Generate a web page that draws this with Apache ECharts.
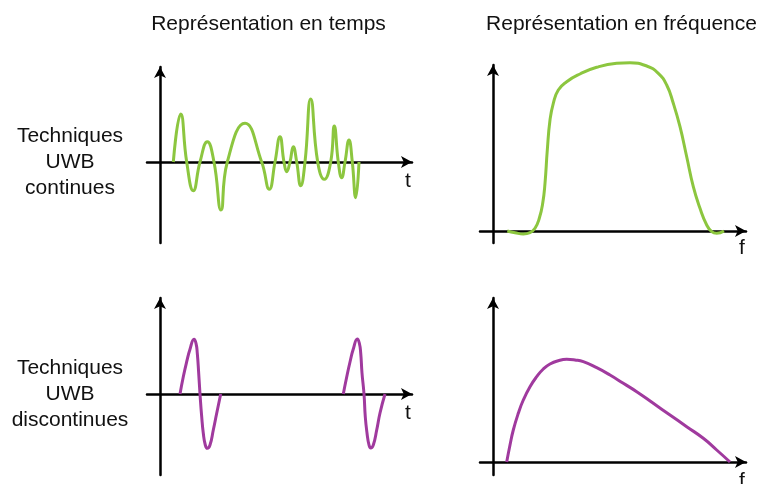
<!DOCTYPE html>
<html><head><meta charset="utf-8">
<script src="https://cdn.jsdelivr.net/npm/echarts@6/dist/echarts.min.js"></script>
<style>html,body{margin:0;padding:0;background:#fff}#c{width:762px;height:484px}</style>
</head><body><div id="c"></div>
<script>
const titles = ['Représentation en temps', 'Représentation en fréquence'];
const rowLabels = ['Techniques\nUWB\ncontinues', 'Techniques\nUWB\ndiscontinues'];
const axisNames = ['t', 'f', 't', 'f'];

// Continuous UWB, time domain [t, amplitude]
const contTime = [[13.3,0],[20.7,48],[26.7,0],[33.3,-28.7],[40,0],[47.3,20.3],[54,0],[61,-48],[67.3,0],[85,38.7],[101.7,0],[109.3,-27.3],[115,0],[120,25.3],[124,0],[126.7,-9.7],[130,0],[133.3,15.3],[136.7,0],[140.7,-23.7],[145,0],[150.7,63],[157.7,0],[164.3,-17.3],[170.7,0],[174.3,36],[178.3,0],[181.7,-15.7],[185,0],[189,22],[192.3,0],[195.7,-35.7],[199,0]];
// Continuous UWB, frequency domain [f, magnitude]
const contFreq = [[14.3,0],[22,-1.7],[30.3,-3],[37,-1.7],[42,2.7],[46.3,12.7],[49.7,27.7],[52,47.7],[54.3,81],[57,111],[60.3,127.7],[65.3,141],[73.7,149.3],[87,157],[103.7,163.7],[123.7,167.7],[137,168.3],[153.7,165],[165.3,157.7],[173.7,146],[180.3,127.7],[187,104.3],[193.7,74.3],[200.3,44.3],[207,22.7],[213.7,6],[218.7,-0.7],[223.7,-2.3],[231,0]];
// Discontinuous UWB, time domain: two pulses
const pulse1 = [[20,0],[23.3,17.3],[26.7,32.3],[30,44.7],[34,54.7],[36,50.7],[37.3,40.7],[38.7,20.7],[40,0],[41.7,-22.7],[43.3,-39.3],[45.3,-51],[47.3,-54.3],[50,-51],[53.3,-36],[56.7,-19.3],[60.7,0]];
const pulse2 = [[183.3,0],[186.7,17],[190,32],[193.3,45],[197.3,55],[199.3,51],[200.7,41],[202,21],[204,0],[205.3,-23],[207,-39],[209,-51],[210.7,-54],[213.3,-51],[216.7,-36],[220,-19],[225,0]];
// Discontinuous UWB, frequency domain
const discFreq = [[13.7,0],[17,17],[20.3,32],[25.3,48.7],[30.3,62],[37,75.3],[43.7,85.3],[50.3,93],[57,98],[65.3,101.3],[73.7,102.7],[82,102],[90.3,100.3],[103.7,94.3],[117,87],[130.3,78.7],[143.7,70.3],[160.3,58.7],[177,47],[193.7,35.3],[210.3,23.7],[223.7,12],[237,0]];

const GREEN = '#8cc63f', PURPLE = '#a03a9e';
const FONT = '"Liberation Sans", Arial, sans-serif';

const grids = [
  {left:147, top:67, width:265, height:176},
  {left:480, top:65, width:266, height:178},
  {left:147, top:298, width:265, height:177},
  {left:480, top:298, width:266, height:177}
];
const xr = [[-13,252],[-13,253],[-13,252],[-13,253]];
const yr = [[-81,95],[-12,166],[-81,96],[-13,164]];

const axisLine = {show:true, onZero:true, symbol:['none','arrow'], symbolSize:[9,11], lineStyle:{color:'#000', width:2.5}};
const mkAxis = (i, r) => ({
  type:'value', gridIndex:i, min:r[0], max:r[1],
  axisLine: axisLine, axisTick:{show:false}, axisLabel:{show:false}, splitLine:{show:false}
});

const mkLine = (data, i, color) => ({
  type:'line', data: data, xAxisIndex:i, yAxisIndex:i, smooth:0.5, showSymbol:false, clip:false,
  lineStyle:{color:color, width:3}, silent:true
});

const txt = (x, y, s, extra) => Object.assign({type:'text', x:x, y:y, style:{text:s, font:'21px ' + FONT, fill:'#111', align:'center', verticalAlign:'middle', lineHeight:26}}, extra || {});

const option = {
  animation:false,
  backgroundColor:'#fff',
  grid: grids,
  xAxis: grids.map((g,i) => mkAxis(i, xr[i])),
  yAxis: grids.map((g,i) => mkAxis(i, yr[i])),
  series: [
    mkLine(contTime, 0, GREEN),
    mkLine(contFreq, 1, GREEN),
    mkLine(pulse1, 2, PURPLE),
    mkLine(pulse2, 2, PURPLE),
    mkLine(discFreq, 3, PURPLE)
  ],
  graphic: [
    txt(268.5, 24, titles[0]),
    txt(621.5, 24, titles[1]),
    txt(70, 162, rowLabels[0]),
    txt(70, 394, rowLabels[1]),
    txt(408, 181, axisNames[0]),
    txt(742, 248, axisNames[1]),
    txt(408, 413, axisNames[2]),
    txt(742, 481, axisNames[3])
  ]
};
const chart = echarts.init(document.getElementById('c'), null, {renderer:'canvas'});
chart.setOption(option);
</script></body></html>
